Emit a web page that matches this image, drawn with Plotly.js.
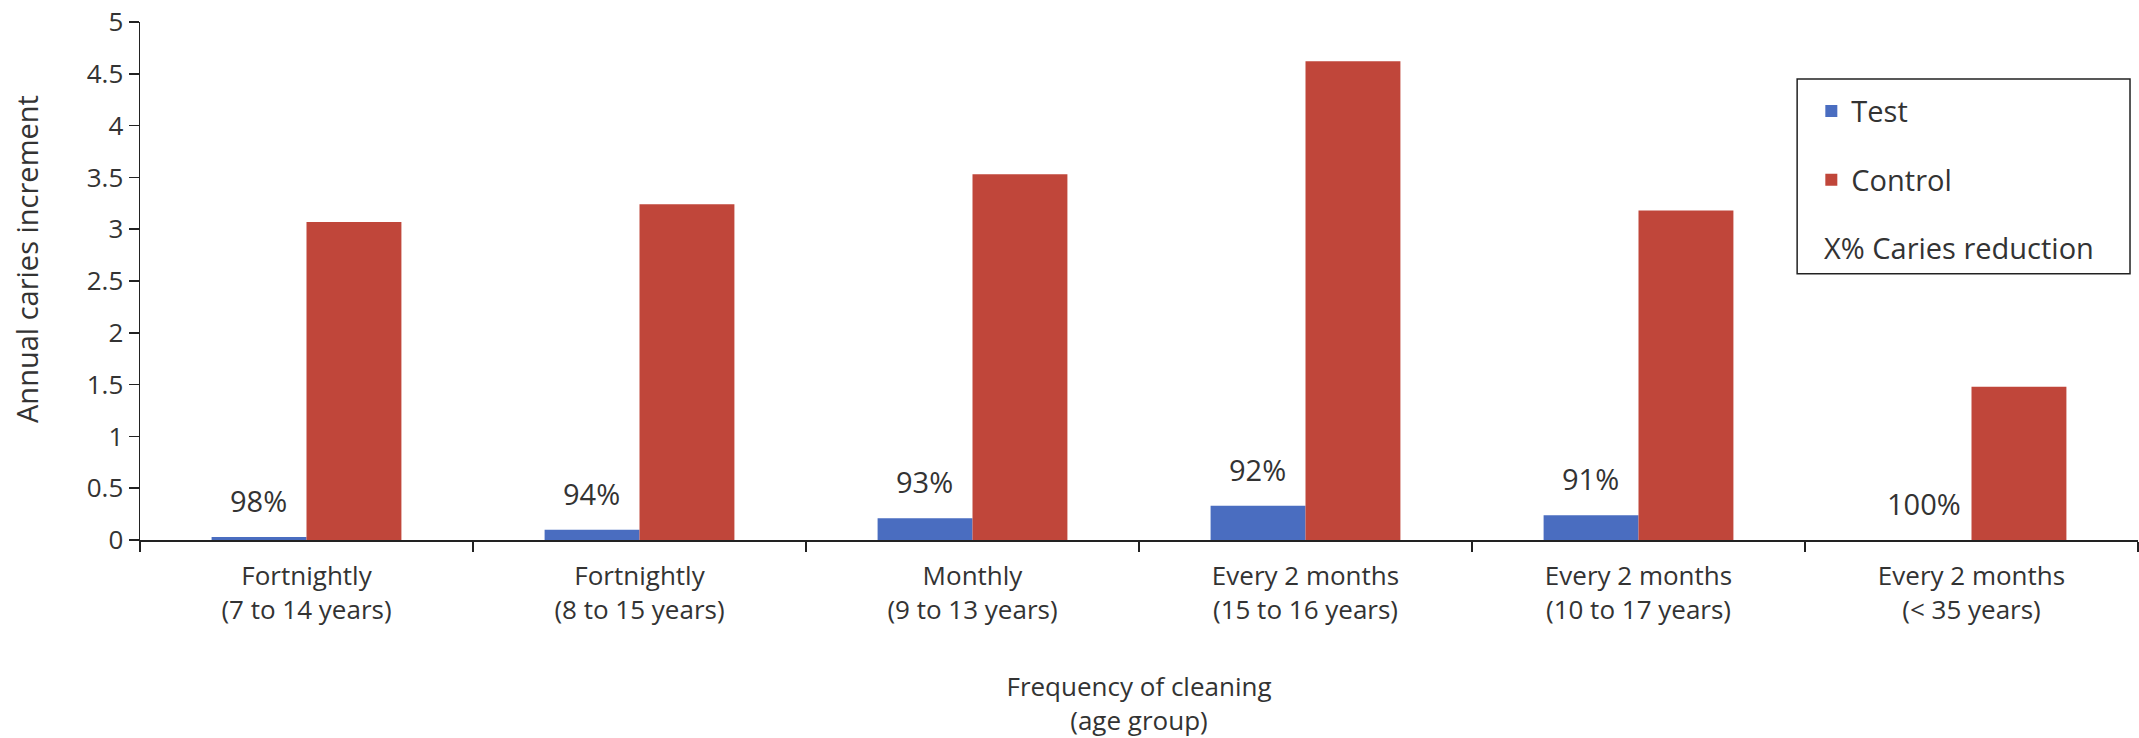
<!DOCTYPE html>
<html>
<head>
<meta charset="utf-8">
<script src="https://cdn.plot.ly/plotly-3.0.1.min.js"></script>
<style>html,body{margin:0;padding:0;background:#fff;}#chart{width:2139px;height:738px;}</style>
</head>
<body>
<div id="chart"></div>
<script>
var categories = ["Fortnightly<br>(7 to 14 years)", "Fortnightly<br>(8 to 15 years)", "Monthly<br>(9 to 13 years)", "Every 2 months<br>(15 to 16 years)", "Every 2 months<br>(10 to 17 years)", "Every 2 months<br>(&lt; 35 years)"];
var testValues = [0.03, 0.10, 0.21, 0.33, 0.24, 0];
var controlValues = [3.07, 3.24, 3.53, 4.62, 3.18, 1.48];
var reductionLabels = ["98%", "94%", "93%", "92%", "91%", "100%"];
var yTicks = [0, 0.5, 1, 1.5, 2, 2.5, 3, 3.5, 4, 4.5, 5];

var FONT = "Open Sans, Noto Sans, sans-serif";
var TXT = "#333333";

var traces = [
  {type: "bar", name: "Test", x: categories, y: testValues, marker: {color: "#4a6dc0"}, legendgroup: "t", hoverinfo: "y"},
  {type: "bar", name: "Control", x: categories, y: controlValues, marker: {color: "#c0463a"}, legendgroup: "c", hoverinfo: "y"}
];

var annotations = categories.map(function (c, i) {
  return {x: c, y: testValues[i], xref: "x", yref: "y", text: reductionLabels[i], showarrow: false,
    xanchor: "center", yanchor: "bottom", xshift: -48, yshift: 15, font: {family: FONT, size: 29, color: TXT}};
});
annotations.push({x: 0.842, y: 0.565, xref: "paper", yref: "paper", xanchor: "left", yanchor: "middle",
  text: "X% Caries reduction", showarrow: false, font: {family: FONT, size: 29, color: TXT}});
annotations.push({x: 0, y: 0.5425, xref: "paper", yref: "paper", xanchor: "center", yanchor: "middle",
  xshift: -113, textangle: -90, text: "Annual caries increment", showarrow: false,
  font: {family: FONT, size: 29, color: TXT}});

var layout = {
  width: 2139, height: 738,
  margin: {l: 140, r: 1, t: 22, b: 198},
  paper_bgcolor: "#fff", plot_bgcolor: "#fff",
  font: {family: FONT, size: 26, color: TXT},
  barmode: "group", bargap: 0.43, bargroupgap: 0,
  showlegend: true,
  legend: {x: 0.8365, y: 0.877, xanchor: "left", yanchor: "top", bgcolor: "rgba(0,0,0,0)",
    borderwidth: 0, traceorder: "grouped", tracegroupgap: 28, font: {family: FONT, size: 29, color: TXT}},
  xaxis: {
    type: "category", showgrid: false, zeroline: false, showline: true, linecolor: "#222", linewidth: 1.5,
    ticks: "outside", tickson: "boundaries", ticklen: 10, tickcolor: "#222", tickwidth: 1.5,
    ticklabelstandoff: 12,
    tickfont: {family: FONT, size: 26, color: TXT},
    title: {text: "Frequency of cleaning<br>(age group)", font: {family: FONT, size: 26, color: TXT}, standoff: 52}
  },
  yaxis: {
    range: [0, 5], tickvals: yTicks, ticktext: yTicks.map(String), showgrid: false, zeroline: false,
    showline: true, linecolor: "#222", linewidth: 1.5, ticks: "outside", ticklen: 10, tickcolor: "#222", tickwidth: 1.5,
    tickfont: {family: FONT, size: 26, color: TXT}
  },
  shapes: [
    {type: "rect", xref: "paper", yref: "paper", x0: 0.8294, x1: 0.996, y0: 0.514, y1: 0.89, line: {color: "#222", width: 1.5}, fillcolor: "rgba(0,0,0,0)"}
  ],
  annotations: annotations
};

Plotly.newPlot("chart", traces, layout, {displayModeBar: false, staticPlot: true});
</script>
</body>
</html>
